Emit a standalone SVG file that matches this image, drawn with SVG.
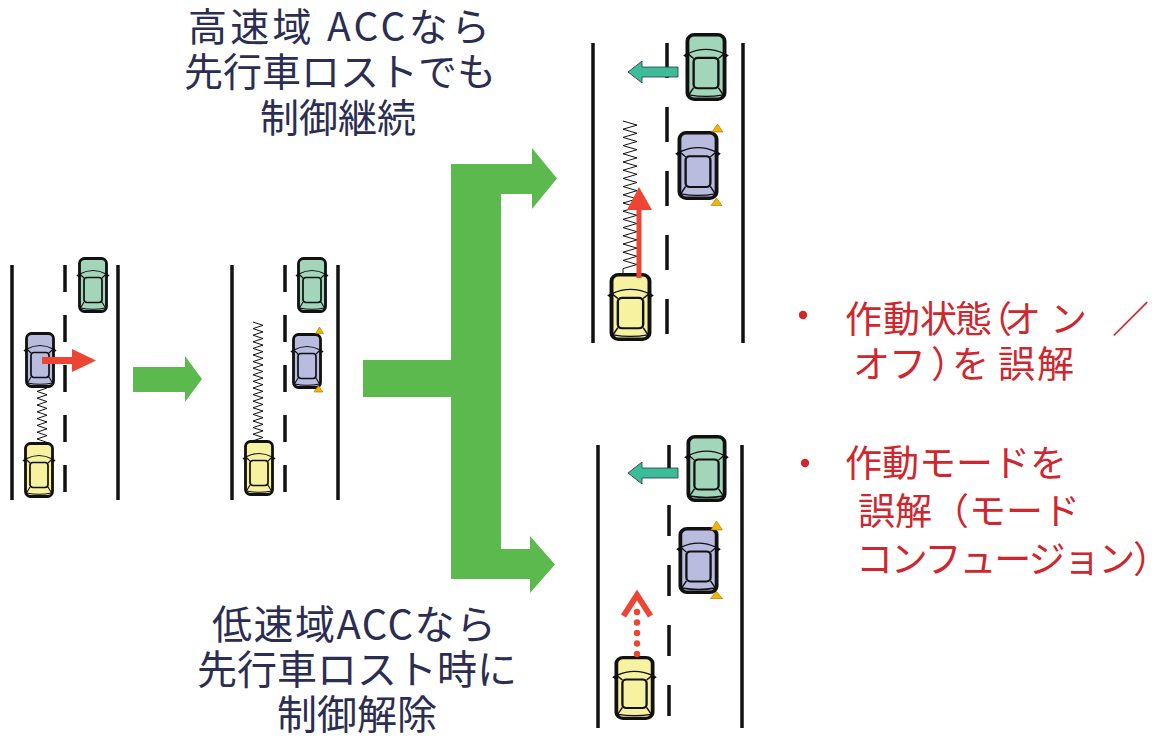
<svg xmlns="http://www.w3.org/2000/svg" xmlns:xlink="http://www.w3.org/1999/xlink" width="1173" height="744" viewBox="0 0 1173 744">
  <style>
    .road { stroke: #111; stroke-width: 3.5; fill: none; }
    .dash { stroke: #111; stroke-width: 3.5; fill: none; }
    .spring { stroke: #111; stroke-width: 1; fill: none; stroke-linejoin: miter; }
    .flow { fill: #5cb94d; }
    .warn { fill: #f4b400; stroke: #9a7000; stroke-width: 0.6; }
    .push { fill: #ee4433; }
    .turn { fill: #3dbd97; stroke: #2a3050; stroke-width: 0.8; }
    .note { font-family: "Noto Sans CJK JP", "Noto Sans", sans-serif; fill: #2b2d52; text-anchor: middle; }
    .top { font-size: 39px; }
    .bottom { font-size: 40px; }
    .alert { font-family: "Noto Sans CJK JP", "Noto Sans", sans-serif; fill: #d0262d; font-size: 37px; }
    .green { fill: #a2d5b9; }
    .blue { fill: #b9bbdf; }
    .yellow { fill: #f6f2a0; }
  </style>
  <defs>
    <!-- top-down car, nose pointing up -->
    <symbol id="car" viewBox="0 0 32 56" preserveAspectRatio="none" overflow="visible">
      <path d="M2.6,16 L-0.6,18.5 L2.6,21 Z M29.4,16 L32.6,18.5 L29.4,21 Z" fill="#111"/>
      <rect x="2.5" y="1.5" width="27" height="53" rx="5" stroke="#111" stroke-width="2.8"/>
      <path d="M2.8,17 Q16,10 29.2,17" fill="none" stroke="#111" stroke-width="1.1"/>
      <path d="M2.8,17 L7,21 M29.2,17 L25,21 M7,45 L3.5,51 M25,45 L28.5,51 M3.5,51 Q16,53.5 28.5,51" fill="none" stroke="#111" stroke-width="1.1"/>
      <rect x="7" y="20.5" width="18" height="25" rx="3" stroke="#111" stroke-width="1.7"/>
    </symbol>
  </defs>

  <rect width="1173" height="744" fill="#ffffff"/>

  <!-- lane change of the car ahead -->
  <g id="scene-start">
    <line class="road" x1="12" y1="265" x2="12" y2="500"/>
    <line class="road" x1="118" y1="265" x2="118" y2="500"/>
    <line class="dash" x1="65" y1="265" x2="65" y2="500" stroke-dasharray="27 23"/>
    <use xlink:href="#car" class="green" x="77" y="257" width="32" height="56"/>
    <path class="spring" d="M47,388 l-10,3.4 l10,3.4 l-10,3.4 l10,3.4 l-10,3.4 l10,3.4 l-10,3.4 l10,3.4 l-10,3.4 l10,3.4 l-10,3.4 l10,3.4 l-10,3.4 l10,3.4 l-10,3.4 l10,3.4 L40,443"/>
    <use xlink:href="#car" class="blue" x="24" y="332" width="32" height="56"/>
    <use xlink:href="#car" class="yellow" x="23" y="442" width="32" height="56"/>
    <path class="push" d="M42,357 L72,357 L72,349 L96,360.5 L72,372 L72,364 L42,364 Z"/>
  </g>

  <!-- car ahead has left the lane -->
  <g id="scene-shift">
    <line class="road" x1="232" y1="265" x2="232" y2="500"/>
    <line class="road" x1="338" y1="265" x2="338" y2="500"/>
    <line class="dash" x1="285" y1="265" x2="285" y2="500" stroke-dasharray="27 23"/>
    <use xlink:href="#car" class="green" x="296" y="257" width="32" height="56"/>
    <use xlink:href="#car" class="blue" x="291" y="333" width="32" height="56"/>
    <path class="warn" d="M319.5,327 L323.5,333.5 L315.5,333.5 Z M318.5,385.5 L323,392 L314,392 Z"/>
    <path class="spring" d="M253,322 l10,3.3 l-10,3.3 l10,3.3 l-10,3.3 l10,3.3 l-10,3.3 l10,3.3 l-10,3.3 l10,3.3 l-10,3.3 l10,3.3 l-10,3.3 l10,3.3 l-10,3.3 l10,3.3 l-10,3.3 l10,3.3 l-10,3.3 l10,3.3 l-10,3.3 l10,3.3 l-10,3.3 l10,3.3 l-10,3.3 l10,3.3 l-10,3.3 l10,3.3 l-10,3.3 l10,3.3 l-10,3.3 l10,3.3 l-10,3.3 l10,3.3 l-10,3.3 l10,3.3 l-10,3.3 L253,441"/>
    <use xlink:href="#car" class="yellow" x="243" y="440" width="32" height="56"/>
  </g>

  <!-- high-speed ACC keeps control -->
  <g id="scene-high-speed">
    <line class="road" x1="593" y1="43" x2="593" y2="343"/>
    <line class="road" x1="743" y1="43" x2="743" y2="343"/>
    <line class="dash" x1="667" y1="43" x2="667" y2="343" stroke-dasharray="35 29"/>
    <use xlink:href="#car" class="green" x="684" y="33" width="44" height="68"/>
    <path class="turn" d="M678,67 L642,67 L642,61 L628,72 L642,83 L642,77 L678,77 Z"/>
    <use xlink:href="#car" class="blue" x="676" y="131" width="44" height="69"/>
    <path class="warn" d="M717.5,124 L723,132 L712,132 Z M716.5,198 L722,205.5 L711,205.5 Z"/>
    <path class="spring" d="M623,121 l14,4.1 l-14,4.1 l14,4.1 l-14,4.1 l14,4.1 l-14,4.1 l14,4.1 l-14,4.1 l14,4.1 l-14,4.1 l14,4.1 l-14,4.1 l14,4.1 l-14,4.1 l14,4.1 l-14,4.1 l14,4.1 l-14,4.1 l14,4.1 l-14,4.1 l14,4.1 l-14,4.1 l14,4.1 l-14,4.1 l14,4.1 l-14,4.1 l14,4.1 l-14,4.1 l14,4.1 l-14,4.1 l14,4.1 l-14,4.1 l14,4.1 l-14,4.1 l14,4.1 l-14,4.1 L623,274"/>
    <use xlink:href="#car" class="yellow" x="608" y="273" width="45" height="68"/>
    <path class="push" d="M636.5,278 L636.5,210 L627,210 L639,187 L652,210 L641.5,210 L641.5,278 Z"/>
  </g>

  <!-- low-speed ACC releases control -->
  <g id="scene-low-speed">
    <line class="road" x1="598" y1="445" x2="598" y2="728"/>
    <line class="road" x1="742" y1="445" x2="742" y2="728"/>
    <line class="dash" x1="669" y1="445" x2="669" y2="728" stroke-dasharray="31 29"/>
    <use xlink:href="#car" class="green" x="685" y="435" width="43" height="67"/>
    <path class="turn" d="M678,468 L642,468 L642,462 L628,473 L642,484 L642,478 L678,478 Z"/>
    <use xlink:href="#car" class="blue" x="677" y="527" width="43" height="67"/>
    <path class="warn" d="M716.5,521 L722.5,530 L711,530 Z M716.5,591.5 L722.5,598.5 L710.5,598.5 Z"/>
    <use xlink:href="#car" class="yellow" x="613" y="656" width="43" height="64"/>
    <g fill="#ee4433">
      <circle cx="637" cy="612" r="3.2"/>
      <circle cx="637" cy="622.5" r="3.2"/>
      <circle cx="637" cy="633" r="3.2"/>
      <circle cx="637" cy="643.5" r="3.2"/>
      <circle cx="637" cy="654" r="3.2"/>
    </g>
    <path d="M623.5,616 L637,595 L650.5,616" fill="none" stroke="#ee4433" stroke-width="6"/>
  </g>

  <!-- flow between scenes -->
  <g id="connectors">
    <path class="flow" d="M133,367 L185,367 L185,356 L202,379 L185,402 L185,392 L133,392 Z"/>
    <path class="flow" d="M363,360 L451,360 L451,164 L532,164 L532,148 L557,178.5 L532,209 L532,194 L501,194 L501,549 L530,549 L530,536 L555,564.5 L530,593 L530,579 L451,579 L451,397 L363,397 Z"/>
  </g>

  <g id="label-high-speed">
    <text class="note top" x="339" y="41" textLength="302" lengthAdjust="spacing">高速域 ACCなら</text>
    <text class="note top" x="340" y="86">先行車ロストでも</text>
    <text class="note top" x="338" y="132">制御継続</text>
  </g>

  <g id="label-low-speed">
    <text class="note bottom" x="354" y="639" textLength="284" lengthAdjust="spacing">低速域ACCなら</text>
    <text class="note bottom" x="357" y="684">先行車ロスト時に</text>
    <text class="note bottom" x="357" y="729">制御解除</text>
  </g>

  <g id="label-misread">
    <circle cx="803" cy="315" r="4.2" fill="#d0262d"/>
    <text class="alert" x="845 883 920 955 975 1004 1050 1112" y="333">作動状態（オン／</text>
    <text class="alert" x="853 889 931 952 998 1037" y="378">オフ）を誤解</text>
    <circle cx="805" cy="463" r="4.2" fill="#d0262d"/>
    <text class="alert" x="845" y="477">作動モードを</text>
    <text class="alert" x="858" y="525">誤解（モード</text>
    <text class="alert" x="856" y="573" textLength="314" lengthAdjust="spacing">コンフュージョン）</text>
  </g>
</svg>
